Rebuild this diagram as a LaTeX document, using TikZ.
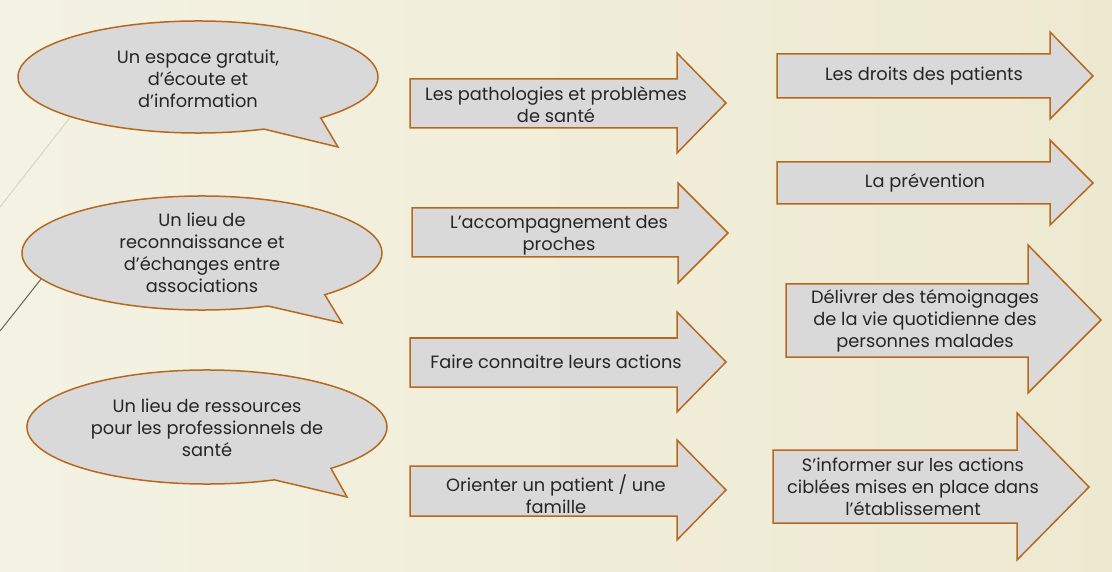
\documentclass[tikz,border=0pt]{standalone}
\usepackage{fontspec}
\setmainfont{Poppins}
\usetikzlibrary{calc}
\definecolor{bord}{RGB}{182,105,30}
\definecolor{fillg}{RGB}{217,217,217}
\definecolor{txt}{RGB}{38,38,38}
\definecolor{bgl}{RGB}{244,242,227}
\definecolor{bgm}{RGB}{252,252,248}
\definecolor{bgr}{RGB}{237,233,209}
\definecolor{deco1}{RGB}{214,214,200}
\definecolor{deco2}{RGB}{95,107,80}
\begin{document}
\begin{tikzpicture}[x=1pt,y=-1pt,
  shapebox/.style={draw=bord,fill=fillg,line width=1.5pt,line join=miter},
  label/.style={text=txt,align=center,font=\fontsize{17.8}{22}\selectfont,inner sep=0pt}]
\useasboundingbox (0,0) rectangle (1112,572);
\shade[left color=bgl,middle color=bgm,right color=bgr] (0,0) rectangle (1112,572);
% decorative lines
\draw[deco1,line width=1pt] (90,92) -- (0,207);
\draw[deco2,line width=1pt] (64,250) -- (0,331);
% speech bubbles
\coordinate (c1) at (198,77);
\coordinate (c2) at (202,253);
\coordinate (c3) at (207,427);
\draw[shapebox] ($(c1)+(-47:180pt and 56pt)$) -- (338,147) -- ($(c1)+(-68.5:180pt and 56pt)$)
  arc[start angle=-68.5,end angle=-407,x radius=180pt,y radius=56pt] -- cycle;
\draw[shapebox] ($(c2)+(-47:180pt and 57pt)$) -- (342,323) -- ($(c2)+(-68.5:180pt and 57pt)$)
  arc[start angle=-68.5,end angle=-407,x radius=180pt,y radius=57pt] -- cycle;
\draw[shapebox] ($(c3)+(-46.5:180pt and 57pt)$) -- (347,497) -- ($(c3)+(-68:180pt and 57pt)$)
  arc[start angle=-68,end angle=-406.5,x radius=180pt,y radius=57pt] -- cycle;
\node[label] (t1) at (198,79) {Un espace gratuit,\\d’écoute et\\d'information};
\node[label] (t2) at (202,253) {Un lieu de\\reconnaissance et\\d’échanges entre\\associations};
\node[label] (t3) at (207,428) {Un lieu de ressources\\pour les professionnels de\\santé};
% middle arrows
\draw[shapebox] (410,79) -- (677,79) -- (677,53) -- (726,103) -- (677,153) -- (677,128) -- (410,128) -- cycle;
\draw[shapebox] (412,208) -- (678,208) -- (678,183) -- (728,233) -- (678,283) -- (678,257) -- (412,257) -- cycle;
\draw[shapebox] (410,338) -- (677,338) -- (677,312) -- (726,362) -- (677,412) -- (677,387) -- (410,387) -- cycle;
\draw[shapebox] (410,466) -- (677,466) -- (677,440) -- (726,490) -- (677,540) -- (677,516) -- (410,516) -- cycle;
\node[label] (m1) at (556,105) {Les pathologies et problèmes\\de santé};
\node[label] (m2) at (559,235) {L’accompagnement des\\proches};
\node[label] (m3) at (556,362) {Faire connaitre leurs actions};
\node[label] (m4) at (556,494) {Orienter un patient / une\\famille};
% right arrows
\draw[shapebox] (777,54) -- (1050,54) -- (1050,32) -- (1093,76) -- (1050,119) -- (1050,98) -- (777,98) -- cycle;
\draw[shapebox] (777,162) -- (1050,162) -- (1050,140) -- (1093,183) -- (1050,225) -- (1050,204) -- (777,204) -- cycle;
\draw[shapebox] (786,284) -- (1028,284) -- (1028,245) -- (1101,320) -- (1028,393) -- (1028,357) -- (786,357) -- cycle;
\draw[shapebox] (773,450) -- (1017,450) -- (1017,413) -- (1089,487) -- (1017,560) -- (1017,523) -- (773,523) -- cycle;
\node[label] (r1) at (924,76) {Les droits des patients};
\node[label] (r2) at (925,183) {La prévention};
\node[label] (r3) at (925,321) {Délivrer des témoignages\\de la vie quotidienne des\\personnes malades};
\node[label] (r4) at (913,487) {S’informer sur les actions\\ciblées mises en place dans\\l’établissement};
\end{tikzpicture}
\end{document}
